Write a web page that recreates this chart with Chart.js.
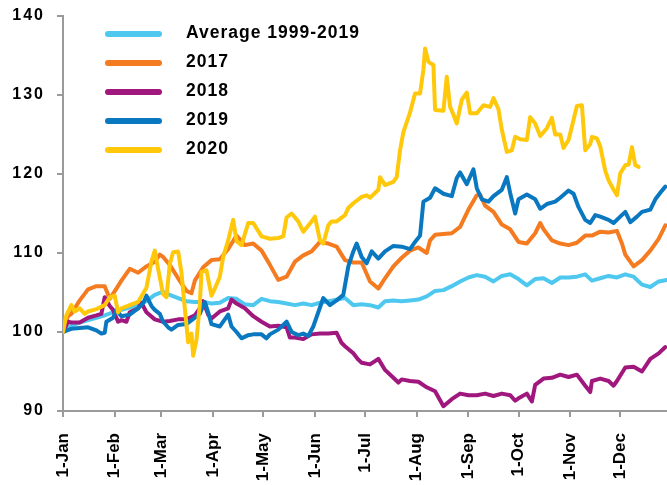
<!DOCTYPE html>
<html><head><meta charset="utf-8">
<script src="https://cdn.jsdelivr.net/npm/chart.js@4.4.1/dist/chart.umd.min.js"></script>
<style>html,body{margin:0;padding:0;background:#fff;}canvas{display:block;}</style>
</head><body>
<canvas id="c" width="667" height="485"></canvas>
<script>
// ---- axis categories / ticks ----
const monthStarts = [0,31,59,90,120,151,181,212,243,273,304,334];
const monthLabels = ['1-Jan','1-Feb','1-Mar','1-Apr','1-May','1-Jun','1-Jul','1-Aug','1-Sep','1-Oct','1-Nov','1-Dec'];
const yTicks = [90,100,110,120,130,140];
const seriesNames = ['Average 1999-2019','2017','2018','2019','2020'];

// ---- Average 1999-2019 ----
const avgDays = [0,5,10,15,20,25,30,35,40,45,50,55,60,64,69,74,79,84,89,94,99,104,109,114,119,124,129,134,139,144,149,154,159,164,169,174,179,184,189,193,198,203,208,213,218,223,228,233,238,243,248,253,258,263,268,273,278,283,288,293,298,303,308,313,317,322,327,332,337,342,347,352,357,362];
const avgValues = [100,100.8,101.2,101.5,101.8,102.1,102.5,102.8,103.1,103.5,103.9,104.7,105.1,104.7,104.3,103.9,103.8,103.8,103.6,103.7,104.3,104.2,103.5,103.4,104.2,103.9,103.8,103.6,103.4,103.6,103.4,103.7,103.9,104.1,104.3,103.4,103.5,103.4,103.1,103.9,104.0,103.9,104.0,104.1,104.5,105.2,105.3,105.8,106.4,106.9,107.2,107.0,106.4,107.1,107.3,106.7,105.9,106.7,106.8,106.2,106.9,106.9,107.0,107.3,106.5,106.8,107.1,106.9,107.3,107.0,106.0,105.7,106.4,106.6];

// ---- 2017 ----
const days2017 = [0,3,5,10,15,20,25,28,32,35,40,45,50,55,58,60,64,69,74,77,79,84,89,94,99,104,109,114,119,124,129,134,139,144,149,154,159,164,169,174,179,184,189,193,198,203,208,213,218,220,223,228,233,238,243,248,250,253,258,263,268,273,278,283,286,288,293,298,303,308,313,317,322,327,332,335,337,342,347,352,357,361];
const values2017 = [100,102.0,102.3,104.0,105.4,105.8,105.8,104.2,105.5,106.5,108.0,107.5,108.3,108.9,109.8,109.5,108.5,106.8,105.2,104.9,106.5,108.2,109.1,109.2,110.5,112.2,111.0,111.2,110.3,108.5,106.6,107.0,108.9,109.7,110.2,111.4,111.2,110.8,109.1,108.8,108.8,106.4,105.5,106.8,108.3,109.4,110.3,110.7,110.0,111.6,112.3,112.4,112.5,113.3,115.5,117.3,117.4,116.0,115.2,113.6,113.0,111.4,111.2,112.5,113.8,113.0,111.6,111.2,111.0,111.3,112.2,112.2,112.7,112.6,112.8,111.2,109.8,108.3,109.1,110.3,111.8,113.5];

// ---- 2018 ----
const days2018 = [0,3,5,10,15,20,23,25,28,30,33,35,38,40,45,47,50,55,60,64,69,74,79,82,84,87,89,94,99,101,104,109,114,119,124,129,134,136,139,144,149,154,159,164,167,169,174,177,179,184,189,193,198,201,203,208,213,218,223,228,233,238,243,248,253,258,263,268,271,273,278,281,283,288,293,298,303,308,313,316,317,322,327,330,332,337,342,347,352,357,361];
const values2018 = [100,101.3,101.2,101.2,101.8,102.1,102.3,104.4,103.3,102.8,101.3,101.5,101.3,102.5,103.0,103.7,102.5,101.6,101.3,101.4,101.6,101.6,102.1,103.0,103.9,102.2,101.7,102.6,103.0,104.1,103.6,103.0,102.0,101.3,100.7,100.8,100.6,99.3,99.3,99.1,99.7,99.8,99.8,99.9,98.6,98.2,97.3,96.5,96.1,95.9,96.6,95.2,94.2,93.6,94.0,93.8,93.7,93.0,92.5,90.6,91.5,92.2,92.0,92.0,92.2,91.9,92.2,92.0,91.3,91.6,92.2,91.2,93.3,94.1,94.2,94.6,94.3,94.6,93.2,92.4,93.8,94.1,93.8,93.2,93.8,95.5,95.6,95.0,96.6,97.3,98.1];

// ---- 2019 ----
const days2019 = [0,5,10,15,20,23,25,26,30,32,35,40,45,48,50,53,55,58,60,63,65,69,74,79,82,85,87,89,94,99,101,104,107,111,114,119,122,124,129,134,137,141,144,147,150,152,156,160,164,168,171,174,176,179,182,185,189,193,198,203,208,211,214,216,220,223,228,233,236,238,242,246,248,251,255,258,263,266,268,271,273,278,283,286,290,295,298,303,306,309,313,316,319,322,327,330,334,337,340,344,347,352,355,359,361];
const values2019 = [100,100.4,100.5,100.6,100.2,99.8,99.9,101.3,101.8,102.8,102.0,102.2,103.0,103.6,104.6,103.3,102.8,102.3,101.3,100.6,100.3,100.9,101.0,101.8,102.3,103.8,102.5,101.0,100.7,102.2,100.7,100.0,99.2,99.6,99.7,99.7,99.2,99.7,100.3,101.3,100.0,99.6,99.8,99.5,100.7,101.9,104.3,103.4,104.0,104.7,108.3,110.2,111.2,109.5,108.7,110.2,109.3,110.2,110.9,110.8,110.5,111.4,112.2,116.5,117.0,118.2,117.5,117.2,119.5,120.2,118.7,120.6,118.2,116.8,116.5,117.2,118.0,119.6,117.6,115.0,116.8,117.4,116.8,115.6,116.2,116.5,117.0,117.9,117.5,115.8,114.2,113.8,114.8,114.6,114.2,113.8,114.6,115.2,113.9,114.6,115.2,115.5,116.8,117.9,118.4];

// ---- 2020 ----
const days2020 = [0,2,5,7,10,13,15,20,25,28,31,33,35,40,45,50,53,55,57,60,62,64,66,69,71,73,75,77,78,80,82,83,86,89,91,94,96,99,102,104,107,111,114,119,124,129,132,134,137,141,144,149,151,154,156,159,161,164,169,171,174,179,182,184,189,190,193,198,200,202,204,208,211,214,216,217,219,222,223,228,230,232,234,236,239,242,244,248,252,256,258,261,263,266,269,271,274,278,280,283,286,290,293,295,298,300,303,305,308,311,313,316,317,320,322,325,327,330,332,334,337,339,341,343,345];
const values2020 = [100,102.1,103.4,102.6,103.0,102.3,102.6,102.9,103.4,104.4,104.6,102.5,103.0,103.4,103.8,105.6,108.9,110.3,108.0,104.8,104.4,108.6,110.1,110.2,107.5,103.0,98.7,99.8,97.0,99.0,103.5,107.6,107.8,104.6,105.5,107.0,109.5,111.6,114.2,111.5,111.0,113.8,113.8,112.1,111.8,111.9,112.1,114.5,115.0,114.0,112.7,114.0,114.6,111.6,111.2,113.5,114.0,114.0,114.8,115.7,116.3,117.1,117.3,117.0,118.0,119.6,118.6,119.0,119.6,123.0,125.3,127.8,130.2,130.2,133.2,135.9,134.2,133.8,128.1,128.0,132.3,128.5,127.5,126.4,129.4,130.3,127.7,127.7,128.7,128.5,129.6,128.2,125.6,122.8,123.0,124.7,124.4,124.3,127.2,126.4,124.8,125.8,127.1,125.0,125.0,123.3,124.3,126.0,128.6,128.7,123.0,123.8,124.7,124.5,123.5,120.4,119.2,118.0,117.3,120.1,121.1,121.2,123.4,121.1,120.9];

const seriesDays = [avgDays, days2017, days2018, days2019, days2020];
const seriesValues = [avgValues, values2017, values2018, values2019, values2020];
const seriesColors = ['#4FC8F0','#F47B20','#A0177E','#0A78C0','#FFC80A'];
const seriesOrder = [5,4,3,2,1];

const FONT = "'Liberation Sans', Arial, sans-serif";
const AXIS_GREY = '#9a9a9a';

const toPoints = (d, v) => d.map((x, i) => ({x: x, y: v[i]}));

const datasets = seriesNames.map((name, i) => ({
  label: name,
  data: toPoints(seriesDays[i], seriesValues[i]),
  borderColor: seriesColors[i],
  backgroundColor: seriesColors[i],
  borderWidth: 4,
  pointRadius: 0,
  pointHoverRadius: 0,
  tension: 0,
  fill: false,
  borderJoinStyle: 'round',
  borderCapStyle: 'round',
  order: seriesOrder[i]
}));

// letter spacing for the value axis labels
const ySpacingPlugin = {
  id: 'ySpacing',
  beforeLayout(chart) {
    const s = chart.scales.y;
    if (s && !s._spacingPatched) {
      const baseDraw = s.draw;
      s.draw = function(area) {
        const ctx = this.ctx;
        ctx.letterSpacing = '2px';
        baseDraw.call(this, area);
        ctx.letterSpacing = '0px';
      };
      s._spacingPatched = true;
    }
  }
};

// legend drawn inside the plot area, as in the reference
const insideLegend = {
  id: 'insideLegend',
  afterDraw(chart) {
    const ctx = chart.ctx;
    ctx.save();
    ctx.font = "bold 17.5px " + FONT;
    ctx.letterSpacing = '1px';
    ctx.fillStyle = '#000';
    ctx.textBaseline = 'alphabetic';
    ctx.textAlign = 'left';
    chart.data.datasets.forEach((ds, i) => {
      const y = 34 + i * 29;
      ctx.strokeStyle = ds.borderColor;
      ctx.lineWidth = 6;
      ctx.lineCap = 'round';
      ctx.beginPath();
      ctx.moveTo(108, y);
      ctx.lineTo(159, y);
      ctx.stroke();
      ctx.fillText(ds.label, 186, y + 4);
    });
    ctx.restore();
  }
};

new Chart(document.getElementById('c'), {
  type: 'line',
  data: { datasets: datasets },
  options: {
    responsive: false,
    animation: false,
    devicePixelRatio: 1,
    layout: { padding: { top: 16, right: 0, bottom: 0, left: 0 } },
    plugins: { legend: { display: false }, tooltip: { enabled: false } },
    scales: {
      x: {
        type: 'linear',
        min: 0,
        max: 362,
        afterBuildTicks: (s) => { s.ticks = monthStarts.map(v => ({ value: v })); },
        afterFit: (s) => { s.height = 74; s.paddingLeft = 0; s.paddingRight = 0; },
        ticks: {
          autoSkip: false,
          minRotation: 90,
          maxRotation: 90,
          padding: 16,
          color: '#000',
          font: { family: FONT, size: 17, weight: 'bold' },
          callback: (v) => { const i = monthStarts.indexOf(v); return i >= 0 ? monthLabels[i] : ''; }
        },
        grid: { display: true, drawOnChartArea: false, drawTicks: true, tickLength: 6, color: AXIS_GREY, lineWidth: 2 },
        border: { display: true, color: AXIS_GREY, width: 2 }
      },
      y: {
        min: 90,
        max: 140,
        afterBuildTicks: (s) => { s.ticks = yTicks.map(v => ({ value: v })); },
        afterFit: (s) => { s.width = 63; s.paddingTop = 0; s.paddingBottom = 0; },
        ticks: {
          padding: 12,
          color: '#000',
          font: { family: FONT, size: 16, weight: 'bold' }
        },
        grid: { display: true, drawOnChartArea: false, drawTicks: true, tickLength: 6, color: AXIS_GREY, lineWidth: 2 },
        border: { display: true, color: AXIS_GREY, width: 2 }
      }
    }
  },
  plugins: [ySpacingPlugin, insideLegend]
});
</script>
</body></html>
